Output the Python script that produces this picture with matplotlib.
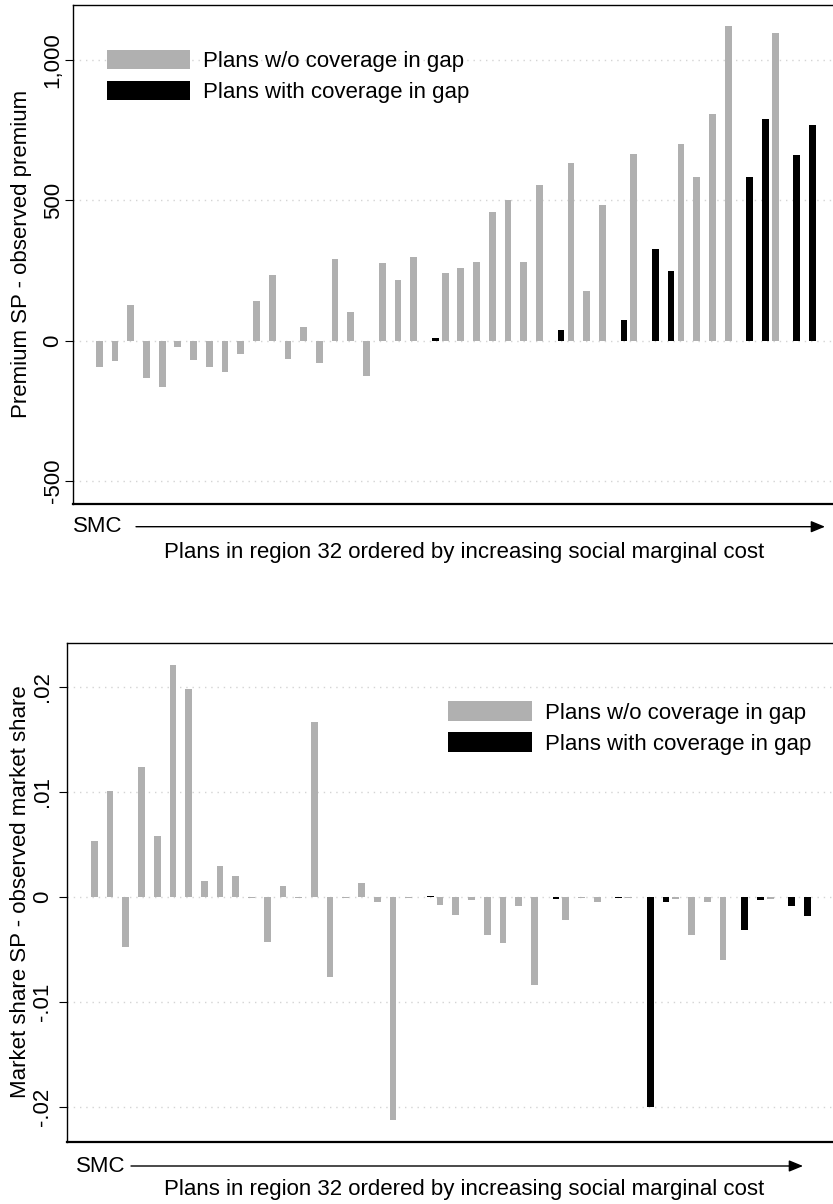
"""Premium and market-share gaps between social planner and observed, region 32."""

import matplotlib
matplotlib.use("Agg")
import matplotlib.pyplot as plt
from matplotlib.patches import Patch
import numpy as np

plt.rcParams["font.family"] = ["Liberation Sans", "DejaVu Sans"]

W, H = 833, 1204

# plans in region 32, ordered by increasing social marginal cost
# 1 = plan with coverage in the gap
gap_coverage = [0, 0, 0, 0, 0, 0, 0, 0, 0, 0,
                0, 0, 0, 0, 0, 0, 0, 0, 0, 0,
                0, 1, 0, 0, 0, 0, 0, 0, 0, 1,
                0, 0, 0, 1, 0, 1, 1, 0, 0, 0,
                0, 1, 1, 0, 1, 1]

# premium SP - observed premium
premium_diff = [-95, -71, 127, -134, -164, -24, -70, -93, -113, -49,
                141, 235, -65, 49, -78, 291, 103, -125, 275, 216,
                297, 11, 242, 260, 279, 460, 502, 281, 555, 37,
                633, 176, 482, 72, 666, 325, 249, 701, 583, 808,
                1121, 583, 790, 1097, 661, 767]

# market share SP - observed market share
share_diff = [0.0053, 0.0101, -0.0048, 0.0124, 0.0058, 0.0221, 0.0198, 0.0015, 0.0029, 0.0020,
              -0.0001, -0.0043, 0.0010, -0.0001, 0.0166, -0.0076, -0.0001, 0.0013, -0.0005, -0.0212,
              -0.0001, 0.0001, -0.0008, -0.0017, -0.0003, -0.0036, -0.0044, -0.0009, -0.0084, -0.0002,
              -0.0022, -0.0001, -0.0005, -0.0001, -0.0001, -0.0200, -0.0005, -0.0002, -0.0036, -0.0005,
              -0.0060, -0.0031, -0.0003, -0.0002, -0.0009, -0.0018]

premium_ticks = [-500, 0, 500, 1000]
premium_labels = ["-500", "0", "500", "1,000"]
share_ticks = [-0.02, -0.01, 0, 0.01, 0.02]
share_labels = ["-.02", "-.01", "0", ".01", ".02"]

legend_labels = ["Plans w/o coverage in gap", "Plans with coverage in gap"]
xlabel = "Plans in region 32 ordered by increasing social marginal cost"

GRAY = "#b0b0b0"
FS = 16


def px(x, y):
    """Image pixel (from top-left) -> figure fraction."""
    return x / W, 1 - y / H


def add_axes(fig, left, top, right, bottom):
    return fig.add_axes([left / W, 1 - bottom / H, (right - left) / W, (bottom - top) / H])


def draw_panel(ax, values, ticks, labels, ylim, xlim, tickpad):
    cov = np.array(gap_coverage, dtype=bool)
    vals = np.array(values)
    x = np.arange(len(vals), dtype=float)
    # plans with coverage sit a little to the right of their slot
    ax.bar(x[~cov], vals[~cov], width=0.43, color=GRAY, linewidth=0)
    ax.bar(x[cov] + 0.37, vals[cov], width=0.43, color="black", linewidth=0)

    ax.set_xlim(*xlim)
    ax.set_ylim(*ylim)
    ax.set_xticks([])
    ax.set_yticks(ticks, labels)
    ax.tick_params(axis="y", length=6, width=0.8, pad=tickpad, labelsize=FS)
    for lab in ax.get_yticklabels():
        lab.set_rotation(90)
        lab.set_va("center")
    ax.yaxis.grid(True, linestyle=(0, (1, 3.5)), color="#d4d4d4", linewidth=1)
    ax.set_axisbelow(True)

    ax.spines["right"].set_visible(False)
    ax.spines["top"].set_linewidth(1.0)
    ax.spines["left"].set_linewidth(1.0)
    ax.spines["bottom"].set_linewidth(1.6)


def draw_legend(ax, left, top):
    handles = [Patch(facecolor=GRAY, edgecolor="none"),
               Patch(facecolor="black", edgecolor="none")]
    ax.legend(handles, legend_labels, loc="upper left", bbox_to_anchor=px(left, top),
              bbox_transform=ax.figure.transFigure, frameon=False, fontsize=FS,
              handlelength=3.75, handleheight=1.0, handletextpad=0.6,
              labelspacing=0.38, borderpad=0, borderaxespad=0)


def draw_smc_axis(fig, y, smc_x, x0, x1, label_y, label_x):
    fig.text(*px(smc_x, y), "SMC", fontsize=FS, ha="left", va="center")
    fig.add_artist(matplotlib.patches.FancyArrowPatch(
        px(x0, y), px(x1, y), transform=fig.transFigure,
        arrowstyle="-|>,head_length=0.85,head_width=0.35", mutation_scale=10,
        linewidth=1.0, color="black", shrinkA=0, shrinkB=0))
    fig.text(*px(label_x, label_y), xlabel, fontsize=FS, ha="center", va="center")


fig = plt.figure(figsize=(W / 100, H / 100), dpi=100)

# top panel: premiums
ax1 = add_axes(fig, 73.3, 4.7, 833, 504)
draw_panel(ax1, premium_diff, premium_ticks, premium_labels,
           ylim=(-582, 1197), xlim=(-1.65, 46.67), tickpad=1)
draw_legend(ax1, 106.7, 49.5)
fig.text(*px(22, 254), "Premium SP - observed premium", fontsize=FS,
         rotation=90, ha="center", va="center")
draw_smc_axis(fig, 526.7, 73, 136, 825, 552.7, 464)

# bottom panel: market shares
ax2 = add_axes(fig, 67.3, 642.7, 833, 1141.7)
draw_panel(ax2, share_diff, share_ticks, share_labels,
           ylim=(-0.02327, 0.02418), xlim=(-1.72, 47.0), tickpad=4.5)
draw_legend(ax2, 448.3, 701)
fig.text(*px(21, 892), "Market share SP - observed market share", fontsize=FS,
         rotation=90, ha="center", va="center")
draw_smc_axis(fig, 1166, 76, 131, 803, 1189, 463.7)

fig.savefig("out.png", dpi=100)
